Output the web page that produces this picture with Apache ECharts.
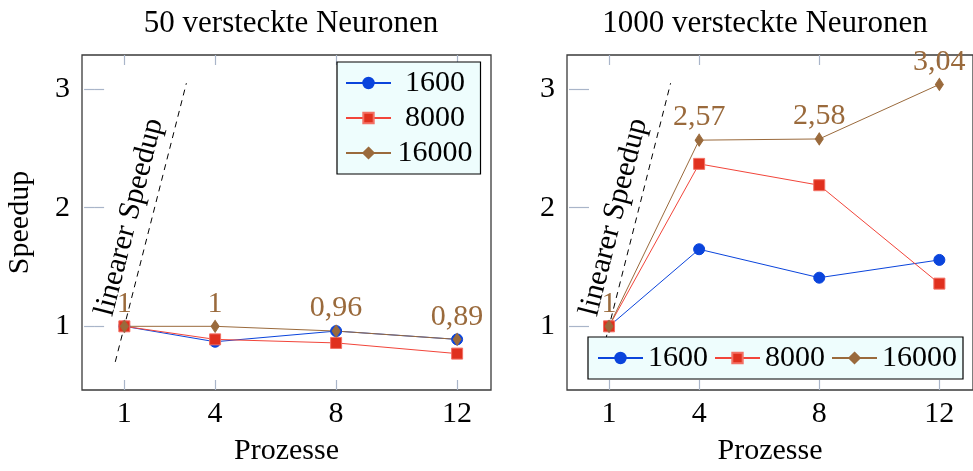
<!DOCTYPE html>
<html><head><meta charset="utf-8">
<script src="https://cdn.jsdelivr.net/npm/echarts@6/dist/echarts.min.js"></script>
<style>html,body{margin:0;padding:0;background:#fff}#c{width:973px;height:471px}</style>
</head><body><div id="c"></div>
<script>
// ---- data ----
const processes = [1, 4, 8, 12];
const xTicks = [1, 4, 8, 12];
const yTicks = [1, 2, 3];
const seriesNames = ['1600', '8000', '16000'];
const titles = ['50 versteckte Neuronen', '1000 versteckte Neuronen'];
const n50_1600 = [1.0, 0.87, 0.96, 0.89];
const n50_8000 = [1.0, 0.89, 0.86, 0.77];
const n50_16000 = [1.0, 1.0, 0.96, 0.89];
const n1000_1600 = [1.0, 1.65, 1.41, 1.56];
const n1000_8000 = [1.0, 2.37, 2.19, 1.36];
const n1000_16000 = [1.0, 2.57, 2.58, 3.04];
const linearX = [0.7, 3.05];
const linearY = [0.7, 3.05];
const linearLabel = 'linearer Speedup';

// ---- style ----
const FONT = 'Liberation Serif';
const FS = 30;
const FT = 31;
const BLUE = '#0a44dc', RED = '#f2453a', REDFILL = '#e0301e', BROWN = '#9a6a3c';
const TICK = '#a9b5c9';
const styles = [
  {color: BLUE, symbol: 'circle', size: 11, fill: BLUE, border: BLUE},
  {color: RED, symbol: 'rect', size: 11, fill: REDFILL, border: '#f37064'},
  {color: BROWN, symbol: 'diamond', size: [8, 12], fill: BROWN, border: BROWN}
];
const fmt = v => String(v).replace('.', ',');
const pts = (xs, ys) => xs.map((x, i) => [x, ys[i]]);

function dataSeries(gi, name, ys, st, withLabel) {
  return {
    type: 'line', name: name, xAxisIndex: gi * 2, yAxisIndex: gi * 2,
    data: pts(processes, ys),
    symbol: st.symbol, symbolSize: st.size,
    lineStyle: {color: st.color, width: 1},
    itemStyle: {color: st.fill, borderColor: st.border, borderWidth: 1},
    animation: false,
    label: withLabel ? {
      show: true, position: 'top', distance: 1, color: BROWN,
      fontFamily: FONT, fontSize: FS,
      formatter: p => fmt(p.value[1])
    } : {show: false},
    emphasis: {disabled: true}
  };
}
function linearSeries(gi) {
  return {
    type: 'line', name: 'linear', xAxisIndex: gi * 2, yAxisIndex: gi * 2,
    data: pts(linearX, linearY), symbol: 'none', animation: false,
    lineStyle: {color: '#000', width: 1, type: [6, 5]},
    z: 1,
    emphasis: {disabled: true},
    markLine: {
      silent: true, symbol: 'none', animation: false,
      lineStyle: {color: 'rgba(0,0,0,0)', width: 1, type: 'solid'},
      label: {show: true, position: 'insideMiddleTop', distance: 7,
        formatter: linearLabel, color: '#000', fontFamily: FONT, fontSize: FS},
      emphasis: {disabled: true},
      data: [[{coord: [linearX[0], linearY[0]]}, {coord: [linearX[1], linearY[1]]}]]
    }
  };
}

const grids = [
  {left: 82, top: 55, width: 409, height: 337},
  {left: 567, top: 55, width: 409, height: 337}
];
const xAxes = [], yAxes = [];
grids.forEach((g, gi) => {
  ['bottom', 'top'].forEach((pos, k) => {
    xAxes.push({
      type: 'value', gridIndex: gi, position: pos, min: -0.4, max: 13.12,
      axisLine: {show: false}, splitLine: {show: false},
      axisTick: {show: true, inside: true, length: 10, customValues: xTicks,
        lineStyle: {color: TICK, width: 1.2}},
      axisLabel: {show: k === 0, customValues: xTicks, margin: 9,
        color: '#000', fontFamily: FONT, fontSize: FS},
      name: k === 0 ? 'Prozesse' : '', nameLocation: 'middle', nameGap: 46,
      nameTextStyle: {color: '#000', fontFamily: FONT, fontSize: FS}
    });
  });
  ['left', 'right'].forEach((pos, k) => {
    yAxes.push({
      type: 'value', gridIndex: gi, position: pos, min: 0.463, max: 3.288,
      axisLine: {show: false}, splitLine: {show: false},
      axisTick: {show: true, inside: true, length: 10, customValues: yTicks,
        lineStyle: {color: TICK, width: 1.2}},
      axisLabel: {show: k === 0, customValues: yTicks, margin: 12,
        color: '#000', fontFamily: FONT, fontSize: FS},
      name: (k === 0 && gi === 0) ? 'Speedup' : '', nameLocation: 'middle', nameGap: 47,
      nameTextStyle: {color: '#000', fontFamily: FONT, fontSize: FS}
    });
  });
});

const series = [
  linearSeries(0),
  dataSeries(0, seriesNames[0], n50_1600, styles[0], false),
  dataSeries(0, seriesNames[1], n50_8000, styles[1], false),
  dataSeries(0, seriesNames[2], n50_16000, styles[2], true),
  linearSeries(1),
  dataSeries(1, seriesNames[0], n1000_1600, styles[0], false),
  dataSeries(1, seriesNames[1], n1000_8000, styles[1], false),
  dataSeries(1, seriesNames[2], n1000_16000, styles[2], true)
];

const legendBase = {
  data: seriesNames, selectedMode: false,
  backgroundColor: '#eefdfd', borderColor: '#000', borderWidth: 1.2,
  itemWidth: 45, itemHeight: 13,
  textStyle: {color: '#000', fontFamily: FONT, fontSize: FS}
};

const option = {
  backgroundColor: '#fff',
  animation: false,
  title: [
    {text: titles[0], left: 286, top: 3, textAlign: 'center',
      textStyle: {fontFamily: FONT, fontSize: FT, fontWeight: 'normal', color: '#000'}},
    {text: titles[1], left: 760, top: 3, textAlign: 'center',
      textStyle: {fontFamily: FONT, fontSize: FT, fontWeight: 'normal', color: '#000'}}
  ],
  grid: grids.map(g => Object.assign({show: true, borderColor: '#3a3a3a', borderWidth: 1.3,
    backgroundColor: 'transparent', containLabel: false}, g)),
  xAxis: xAxes,
  yAxis: yAxes,
  legend: [
    Object.assign({}, legendBase, {orient: 'vertical', left: 337, top: 62,
      padding: [6, 8, 6, 8], itemGap: 5,
      formatter: n => '{c|' + n + '}',
      textStyle: {color: '#000', fontFamily: FONT, fontSize: FS,
        rich: {c: {width: 78, align: 'center', fontFamily: FONT, fontSize: FS, color: '#000'}}}}),
    Object.assign({}, legendBase, {orient: 'horizontal', left: 588, top: 337,
      padding: [6, 6, 6, 9], itemGap: 6})
  ],
  series: series
};
echarts.init(document.getElementById('c'), null, {renderer: 'canvas'}).setOption(option);
</script></body></html>
